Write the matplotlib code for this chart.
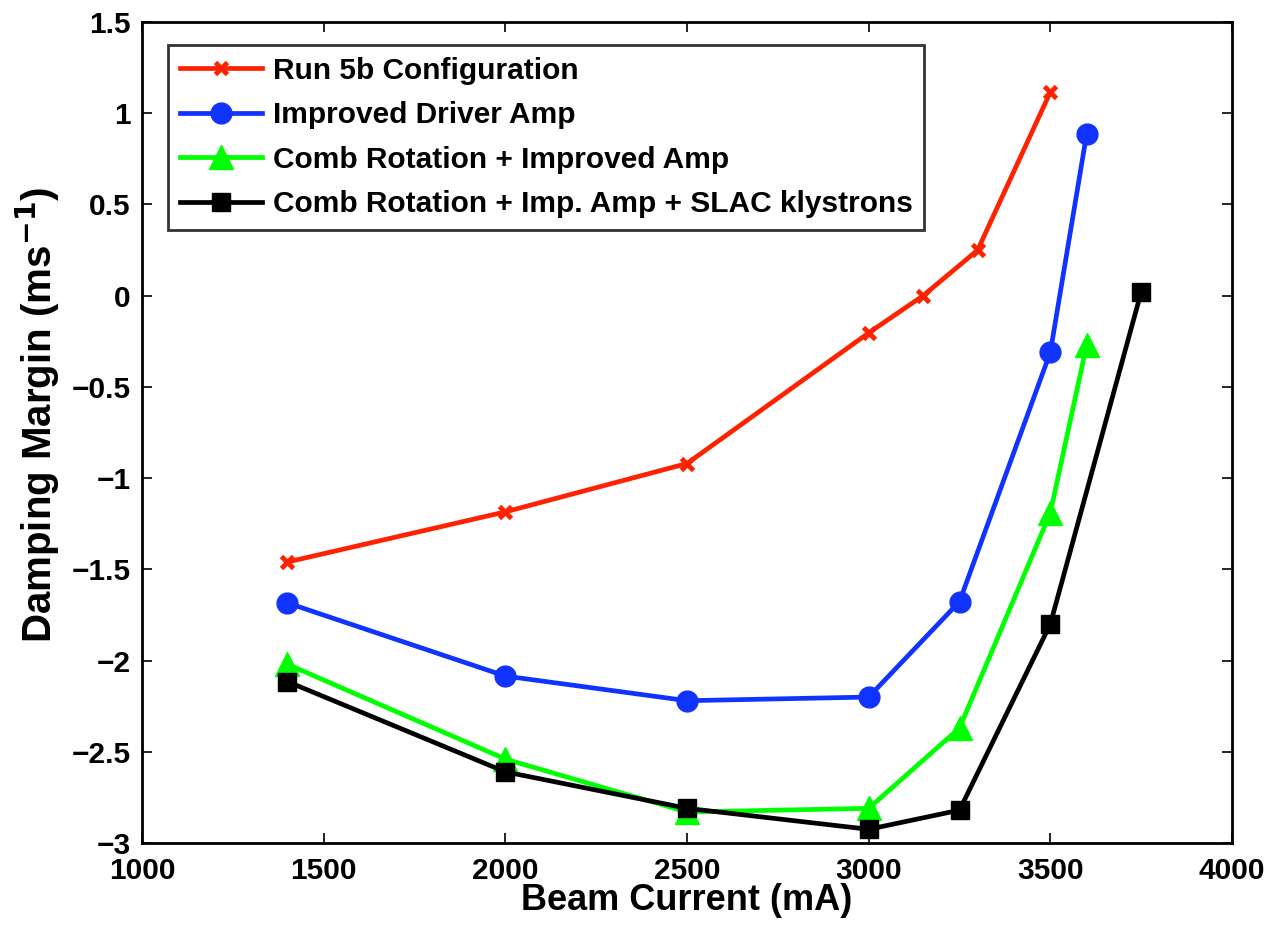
import matplotlib
matplotlib.use("Agg")
import matplotlib.pyplot as plt

plt.rcParams['font.family'] = ['Liberation Sans', 'DejaVu Sans']
plt.rcParams['font.weight'] = 'bold'
plt.rcParams['mathtext.default'] = 'bf'

x_run5b = [1400, 2000, 2500, 3000, 3150, 3300, 3500]
y_run5b = [-1.46, -1.185, -0.92, -0.204, 0.0, 0.25, 1.116]

x_driver = [1400, 2000, 2500, 3000, 3250, 3500, 3600]
y_driver = [-1.684, -2.085, -2.22, -2.20, -1.677, -0.31, 0.887]

x_comb = [1400, 2000, 2500, 3000, 3250, 3500, 3600]
y_comb = [-2.02, -2.54, -2.83, -2.81, -2.37, -1.19, -0.27]

x_slac = [1400, 2000, 2500, 3000, 3250, 3500, 3750]
y_slac = [-2.115, -2.61, -2.81, -2.925, -2.82, -1.80, 0.02]

labels = ["Run 5b Configuration", "Improved Driver Amp",
          "Comb Rotation + Improved Amp",
          "Comb Rotation + Imp. Amp + SLAC klystrons"]

xticks = [1000, 1500, 2000, 2500, 3000, 3500, 4000]
yticks = [-3, -2.5, -2, -1.5, -1, -0.5, 0, 0.5, 1, 1.5]
yticklabels = ["\u22123", "\u22122.5", "\u22122", "\u22121.5", "\u22121", "\u22120.5", "0", "0.5", "1", "1.5"]

fig = plt.figure(figsize=(12.7, 9.32), dpi=100)
ax = fig.add_axes([142/1270, 1 - 843/932, (1232-142)/1270, (843-22)/932])

lw = 3.4
ax.plot(x_run5b, y_run5b, color='#ff2200', lw=lw, marker='x', markersize=9,
        markeredgewidth=3.5, label=labels[0])
ax.plot(x_driver, y_driver, color='#1133ff', lw=lw, marker='o', markersize=15,
        label=labels[1])
ax.plot(x_comb, y_comb, color='#00ff00', lw=lw, marker='^', markersize=17.5,
        label=labels[2])
ax.plot(x_slac, y_slac, color='black', lw=lw, marker='s', markersize=12.5,
        label=labels[3])

ax.set_xlim(1000, 4000)
ax.set_ylim(-3, 1.5)
ax.set_xticks(xticks)
ax.set_xticklabels([str(t) for t in xticks])
ax.set_yticks(yticks)
ax.set_yticklabels(yticklabels)
ax.tick_params(direction='in', length=7.5, width=1.2, top=True, right=True,
               labelsize=21.5)
ax.tick_params(axis='x', pad=10)
ax.tick_params(axis='y', pad=8)
for s in ax.spines.values():
    s.set_linewidth(2.0)

ax.set_xlabel("Beam Current (mA)", fontsize=26, fontweight='bold')
ax.xaxis.set_label_coords(0.5, (843-910)/821)
ax.xaxis.label.set_va('baseline')
ax.set_ylabel("Damping Margin (ms$^{-1}$)", fontsize=29, fontweight='bold')
ax.yaxis.set_label_coords((62-142)/1090, (843-415)/821)

leg = ax.legend(loc='upper left', bbox_to_anchor=((168-142)/1090, (843-45)/821),
                borderaxespad=0, fontsize=21.5,
                frameon=True, fancybox=False, edgecolor='black', handlelength=2.75,
                borderpad=0.4, labelspacing=0.55, handletextpad=0.35)
leg.get_frame().set_linewidth(2.0)
for t in leg.get_texts():
    t.set_fontweight('bold')

fig.savefig("out.png", dpi=100)
